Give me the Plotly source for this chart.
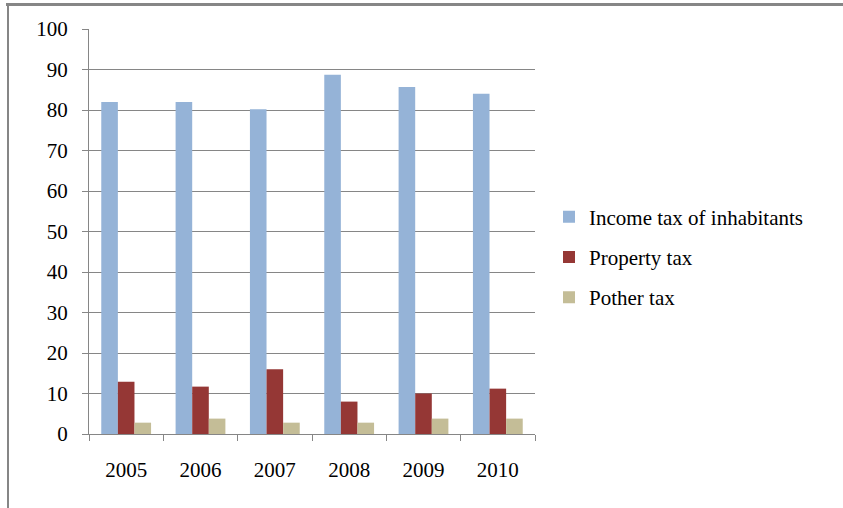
import plotly.graph_objects as go

years = ["2005", "2006", "2007", "2008", "2009", "2010"]
income_tax = [82.0, 82.0, 80.2, 88.7, 85.7, 84.0]
property_tax = [12.9, 11.7, 16.0, 8.0, 10.0, 11.2]
other_tax = [2.8, 3.8, 2.8, 2.8, 3.8, 3.8]
y_ticks = [0, 10, 20, 30, 40, 50, 60, 70, 80, 90, 100]

series = [
    ("Income tax of inhabitants", income_tax, "#95B3D7"),
    ("Property tax", property_tax, "#953735"),
    ("Pother tax", other_tax, "#C4BD97"),
]

W, H = 843, 508
L, R, T, B = 89, 535, 29, 434
pw, ph = R - L, B - T

def px_x(p):
    return (p - L) / pw

def px_y(p):
    return (B - p) / ph

fig = go.Figure()
for i, (name, vals, col) in enumerate(series):
    fig.add_trace(go.Bar(x=years, y=vals, name=name, marker_color=col,
                         marker_line_width=0, legendgroup=f"g{i}"))

font_fam = "Liberation Serif, Times New Roman, serif"
grey = "#868686"
fs = 21

fig.update_layout(
    width=W, height=H,
    margin=dict(l=L, r=W - R, t=T, b=H - B, pad=0),
    paper_bgcolor="white", plot_bgcolor="white",
    barmode="group", bargap=0.33, bargroupgap=0,
    font=dict(family=font_fam, size=fs, color="black"),
    showlegend=True,
    legend=dict(x=px_x(549), xanchor="left", y=px_y(257), yanchor="middle",
                traceorder="grouped", tracegroupgap=10,
                font=dict(family=font_fam, size=fs, color="black"),
                bgcolor="rgba(0,0,0,0)"),
    xaxis=dict(type="category", showline=True, linecolor=grey, linewidth=1,
               ticks="outside", tickson="boundaries", ticklen=6, tickcolor=grey,
               showgrid=False, ticklabelstandoff=17,
               tickfont=dict(family=font_fam, size=fs, color="black")),
    yaxis=dict(range=[0, 100], tickvals=y_ticks, showline=True, linecolor=grey,
               linewidth=1, ticks="outside", ticklen=6, tickcolor=grey,
               showgrid=True, gridcolor=grey, gridwidth=1, zeroline=False,
               ticklabelstandoff=10,
               tickfont=dict(family=font_fam, size=fs, color="black")),
    shapes=[
        dict(type="line", xref="paper", yref="paper",
             x0=px_x(6), x1=px_x(843), y0=px_y(4.5), y1=px_y(4.5),
             line=dict(color=grey, width=3)),
        dict(type="line", xref="paper", yref="paper",
             x0=px_x(8), x1=px_x(8), y0=px_y(3), y1=px_y(508),
             line=dict(color=grey, width=2)),
    ],
)

fig.write_html("out.html", config={"displayModeBar": False},
               post_script="document.body.style.margin='0';document.body.style.padding='0';")
